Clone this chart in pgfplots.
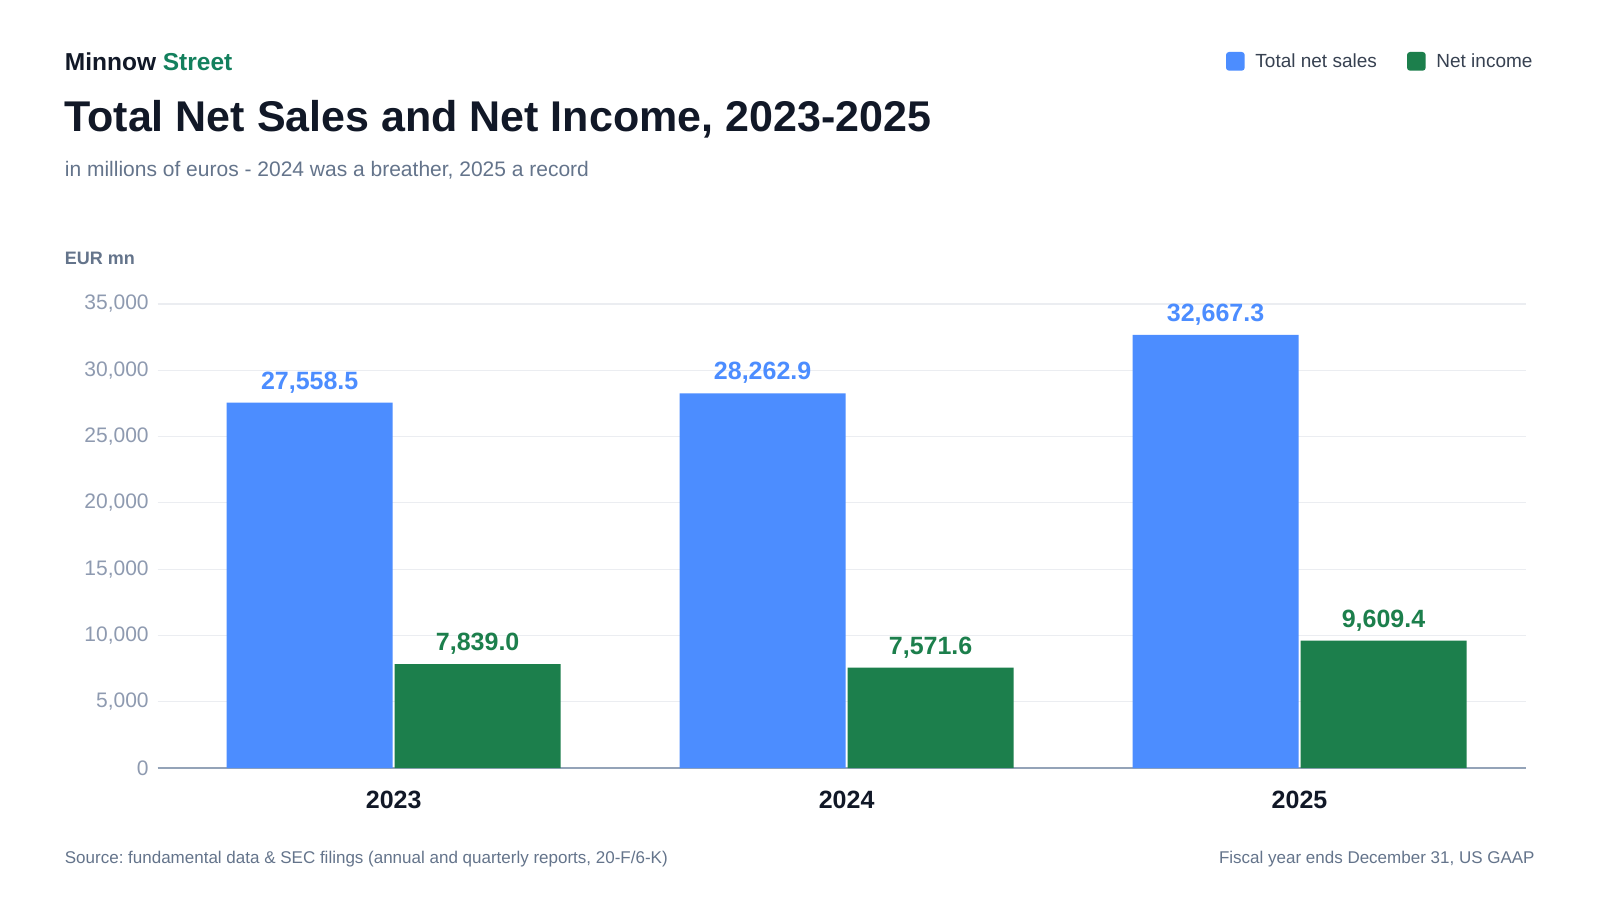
\documentclass[border=0pt]{standalone}
\usepackage{fontspec}
\setmainfont{Liberation Sans}
\usepackage{pgfplots}
\pgfplotsset{compat=1.18}
\frenchspacing
\definecolor{cblue}{HTML}{4C8DFF}
\definecolor{cgreen}{HTML}{1C7F4C}
\definecolor{ink}{HTML}{111827}
\definecolor{slate}{HTML}{64748B}
\definecolor{tickc}{HTML}{8E9AB0}
\definecolor{gridc}{HTML}{EBEDF1}
\definecolor{axisc}{HTML}{94A3B8}
\definecolor{legtxt}{HTML}{374151}
\definecolor{street}{HTML}{13805D}
\begin{document}
\frenchspacing
\begin{tikzpicture}[x=0.5pt,y=0.5pt]
\fill[white] (0,0) rectangle (1600,900);
\coordinate (axpos) at (157.7,132);
% header
\node[anchor=base west, inner sep=0, text=ink, font=\fontsize{12.25}{14}\selectfont\bfseries] at (64.5,829) {Minnow \textcolor{street}{Street}};
\node[anchor=base west, inner sep=0, text=ink, font=\fontsize{21.5}{24}\selectfont\bfseries] at (64,768.3) {Total Net Sales and Net Income, 2023-2025};
\node[anchor=base west, inner sep=0, text=slate, font=\fontsize{10.5}{12}\selectfont] at (64.5,723.3) {in millions of euros - 2024 was a breather, 2025 a record};
\node[anchor=base west, inner sep=0, text=slate, font=\fontsize{9}{11}\selectfont\bfseries] at (64.5,635.5) {EUR mn};
% legend
\fill[cblue, rounded corners=1.5pt] (1226,829.3) rectangle (1244.7,848);
\node[anchor=base west, inner sep=0, text=legtxt, font=\fontsize{9.5}{11}\selectfont] at (1255,832) {Total net sales};
\fill[cgreen, rounded corners=1.5pt] (1407,829.3) rectangle (1425.7,848);
\node[anchor=base west, inner sep=0, text=legtxt, font=\fontsize{9.5}{11}\selectfont] at (1436,832) {Net income};
% footer
\node[anchor=base west, inner sep=0, text=slate, font=\fontsize{8.5}{10}\selectfont] at (64.5,37) {Source: fundamental data \& SEC filings (annual and quarterly reports, 20-F/6-K)};
\node[anchor=base east, inner sep=0, text=slate, font=\fontsize{8.5}{10}\selectfont] at (1535,37) {Fiscal year ends December 31, US GAAP};
\begin{axis}[
  at={(axpos)}, anchor=south west,
  width=684.15pt, height=232pt, scale only axis,
  xmin=-0.521, xmax=2.5, ymin=0, ymax=35000,
  ybar, bar width=83pt,
  axis x line*=bottom, axis y line*=left,
  x axis line style={draw=axisc, line width=1pt, -},
  y axis line style={draw=none},
  major tick length=0pt,
  xtick={0,1,2}, xticklabels={2023,2024,2025},
  xticklabel style={anchor=base, yshift=-20pt, text=ink, font=\fontsize{12.5}{14}\selectfont\bfseries},
  ytick={0,5000,...,35000},
  scaled y ticks=false,
  yticklabel style={text=tickc, font=\fontsize{10.5}{12}\selectfont, xshift=-1pt, /pgf/number format/1000 sep={,}, /pgf/number format/assume math mode=true},
  ymajorgrids, major grid style={gridc, line width=0.6pt},
  nodes near coords,
  every node near coord/.append style={anchor=base, inner sep=0pt, yshift=6.7pt, font=\fontsize{12.5}{14}\selectfont\bfseries,
    /pgf/number format/fixed, /pgf/number format/fixed zerofill, /pgf/number format/precision=1,
    /pgf/number format/1000 sep={,}, /pgf/number format/assume math mode=true},
  clip=false,
]
\addplot[fill=cblue, draw=none, bar shift=-42pt, every node near coord/.append style={text=cblue}] coordinates {(0,27558.5) (1,28262.9) (2,32667.3)};
\addplot[fill=cgreen, draw=none, bar shift=42pt, every node near coord/.append style={text=cgreen}] coordinates {(0,7839.0) (1,7571.6) (2,9609.4)};
\end{axis}
\end{tikzpicture}
\end{document}
